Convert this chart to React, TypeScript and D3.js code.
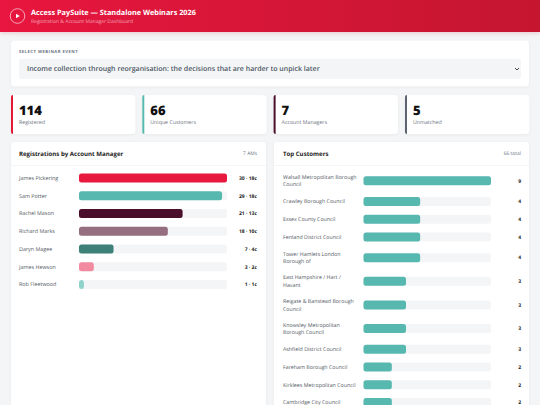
import React from "react";
import * as d3 from "d3";

const FONT = "'Open Sans', sans-serif";
const kpiValues = ["114", "66", "7", "5"];
const kpiLabels = ["Registered", "Unique Customers", "Account Managers", "Unmatched"];
const kpiColors = ["#e31837", "#57b8b0", "#4a0e2b", "#5b6470"];

const managers = ["James Pickering", "Sam Potter", "Rachel Mason", "Richard Marks", "Daryn Magee", "James Hewson", "Rob Fleetwood"];
const managerRegs = [30, 29, 21, 18, 7, 3, 1];
const managerCust = [18, 18, 13, 10, 4, 2, 1];
const managerColors = ["#e8193f", "#57b8b0", "#4a0e2b", "#956e7f", "#3d8078", "#f28ba0", "#8fd1cb"];

const customerLines = [
  ["Walsall Metropolitan Borough", "Council"],
  ["Crawley Borough Council"],
  ["Essex County Council"],
  ["Fenland District Council"],
  ["Tower Hamlets London", "Borough of"],
  ["East Hampshire / Hart /", "Havant"],
  ["Reigate & Banstead Borough", "Council"],
  ["Knowsley Metropolitan", "Borough Council"],
  ["Ashfield District Council"],
  ["Fareham Borough Council"],
  ["Kirklees Metropolitan Council"],
  ["Cambridge City Council"],
];
const customerCounts = [9, 4, 4, 4, 4, 3, 3, 3, 3, 2, 2, 2];

const x1 = d3.scaleLinear().domain([0, 30]).range([79, 227]);
const x2 = d3.scaleLinear().domain([0, 9]).range([363.5, 491]);
const y1 = d3.scaleBand<number>().domain(d3.range(managers.length)).range([169.1, 293.4]);

const custRowH = (i: number) => (customerLines[i].length > 1 ? 23.65 : 17.75);
const custCentres: number[] = [];
{
  let y = 168.9;
  customerLines.forEach((_, i) => {
    custCentres.push(y + custRowH(i) / 2);
    y += custRowH(i);
  });
}

const kpiX = [11, 142.3, 273.6, 405];
const TXT = "#555b66";
const DARK = "#1a1a1a";

export default function App() {
  return (
    <svg width={540} height={405} viewBox="0 0 540 405" textRendering="geometricPrecision" style={{ position: "fixed", left: 0, top: 0, fontFamily: FONT }}>
      <defs>
        <linearGradient id="hdr" x1="0" y1="0" x2="1" y2="0">
          <stop offset="0" stopColor="#e8173f" />
          <stop offset="1" stopColor="#c4122f" />
        </linearGradient>
        <filter id="sh" x="-10%" y="-10%" width="120%" height="130%">
          <feDropShadow dx="0" dy="1" stdDeviation="1.5" floodColor="#000" floodOpacity="0.05" />
        </filter>
        <filter id="hs" x="-5%" y="-10%" width="110%" height="150%">
          <feDropShadow dx="0" dy="1" stdDeviation="2" floodColor="#c4122f" floodOpacity="0.2" />
        </filter>
      </defs>
      <rect width={540} height={405} fill="#f3f5f7" />
      <rect width={540} height={32} fill="url(#hdr)" filter="url(#hs)" />
      <circle cx={17.5} cy={16} r={7.3} fill="none" stroke="#fff" strokeOpacity={0.75} strokeWidth={0.8} />
      <path d={d3.line()([[16, 13.8], [16, 18.2], [19.8, 16]])! + "Z"} fill="#fff" />
      <text x={31} y={14.6} fontSize={7.3} fontWeight={700} fill="#fff">Access PaySuite — Standalone Webinars 2026</text>
      <text x={31} y={22.9} fontSize={5} fill="#fff" fillOpacity={0.6}>Registration &amp; Account Manager Dashboard</text>

      <rect x={11} y={40.7} width={518} height={45.6} rx={3.5} fill="#fff" filter="url(#sh)" />
      <text x={19} y={53.4} fontSize={4.2} fontWeight={700} letterSpacing={0.48} fill="#6b7280">SELECT WEBINAR EVENT</text>
      <rect x={19} y={58.7} width={502} height={20.3} rx={3} fill="#f4f5f7" />
      <text x={27} y={71.4} fontSize={7} fontWeight={600} fill="#4b5563">Income collection through reorganisation: the decisions that are harder to unpick later</text>
      <path d="M515 68 L517 70 L519 68" fill="none" stroke="#333" strokeWidth={0.9} />

      {kpiValues.map((v, i) => (
        <g key={kpiLabels[i]}>
          <rect x={kpiX[i]} y={95} width={124.3} height={39} rx={3.5} fill="#fff" filter="url(#sh)" />
          <path d={`M${kpiX[i] + 2} 95 a2 2 0 0 0 -2 2 v35 a2 2 0 0 0 2 2 z`} fill={kpiColors[i]} />
          <text x={kpiX[i] + 8} y={115} fontSize={13} fontWeight={800} fill="#111">{v}</text>
          <text x={kpiX[i] + 8} y={124} fontSize={5.25} fill="#6b7280">{kpiLabels[i]}</text>
        </g>
      ))}

      <rect x={11} y={142} width={255} height={290} rx={3.5} fill="#fff" filter="url(#sh)" />
      <text x={19} y={156} fontSize={6.1} fontWeight={700} fill={DARK}>Registrations by Account Manager</text>
      <text x={257} y={155} fontSize={4.9} textAnchor="end" fill="#6b7280">7 AMs</text>
      <line x1={11} x2={266} y1={165.5} y2={165.5} stroke="#eef0f2" strokeWidth={0.7} />
      {managers.map((m, i) => {
        const c = y1(i)! + y1.bandwidth() / 2;
        return (
          <g key={m}>
            <text x={19} y={c + 1.8} fontSize={5.4} fontWeight={500} fill={TXT}>{m}</text>
            <rect x={x1(0)} y={c - 4.5} width={x1(30) - x1(0)} height={9} rx={2.5} fill="#f4f5f7" />
            <rect x={x1(0)} y={c - 4.5} width={x1(managerRegs[i]) - x1(0)} height={9} rx={2.5} fill={managerColors[i]} />
            <text x={257} y={c + 1.8} fontSize={5} fontWeight={700} textAnchor="end" fill="#222">{`${managerRegs[i]} · ${managerCust[i]}c`}</text>
          </g>
        );
      })}

      <rect x={274} y={142} width={255} height={290} rx={3.5} fill="#fff" filter="url(#sh)" />
      <text x={283} y={156} fontSize={6.1} fontWeight={700} fill={DARK}>Top Customers</text>
      <text x={521} y={155} fontSize={4.9} textAnchor="end" fill="#6b7280">66 total</text>
      <line x1={274} x2={529} y1={165.5} y2={165.5} stroke="#eef0f2" strokeWidth={0.7} />
      {customerLines.map((lines, i) => {
        const c = custCentres[i];
        return (
          <g key={lines.join(" ")}>
            {lines.map((l, k) => (
              <text key={l} x={283} y={c + 1.8 + (k - (lines.length - 1) / 2) * 7.6} fontSize={5.3} fontWeight={500} fill={TXT}>{l}</text>
            ))}
            <rect x={x2(0)} y={c - 4.5} width={x2(9) - x2(0)} height={9} rx={2.5} fill="#f4f5f7" />
            <rect x={x2(0)} y={c - 4.5} width={x2(customerCounts[i]) - x2(0)} height={9} rx={2.5} fill="#57b8b0" />
            <text x={521} y={c + 1.8} fontSize={5} fontWeight={700} textAnchor="end" fill="#222">{customerCounts[i]}</text>
          </g>
        );
      })}
    </svg>
  );
}
